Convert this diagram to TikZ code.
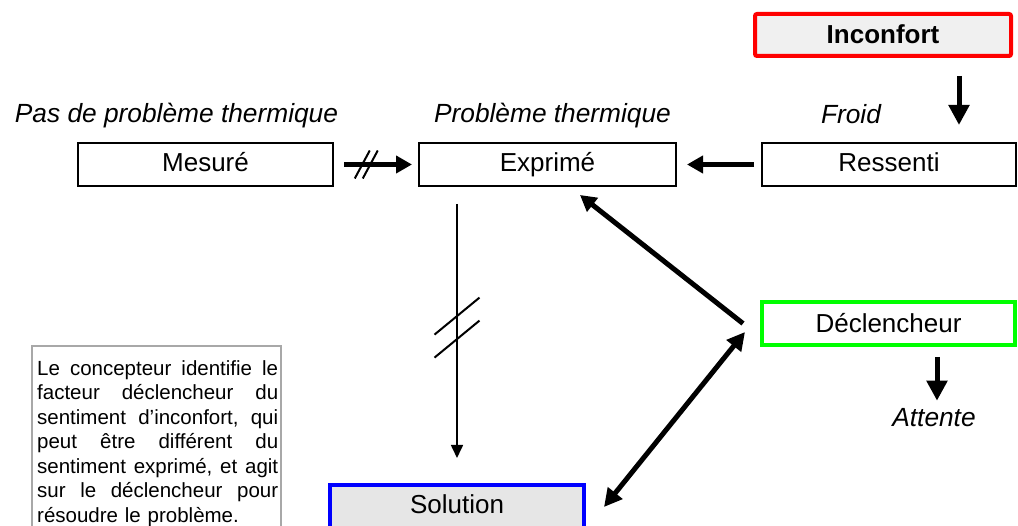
\documentclass[tikz,border=0pt]{standalone}
\usepackage{fontspec}
\setmainfont{Liberation Sans}
\usetikzlibrary{arrows.meta}
\definecolor{boxred}{HTML}{FF0000}
\definecolor{boxgreen}{HTML}{00FF00}
\definecolor{boxblue}{HTML}{0000FF}
\definecolor{fillgrayA}{HTML}{F0F0F0}
\definecolor{fillgrayB}{HTML}{E6E6E6}
\definecolor{framegray}{HTML}{A8A8A8}
\newcommand\myjline[1]{\leavevmode\hbox to 241pt{#1}}
\begin{document}
\begin{tikzpicture}[x=1pt,y=-1pt,
  box/.style={draw=black, line width=2pt, minimum height=43pt, inner sep=0pt,
    text height=19pt, text depth=5pt, font=\fontsize{26}{30}\selectfont},
  colbox/.style={box, line width=4pt},
  lbl/.style={anchor=base, inner sep=0pt, font=\fontsize{26.3}{30}\selectfont\itshape},
  bigarrow/.style={line width=5pt, -{Triangle[length=16pt,width=17pt]}},
  vbigarrow/.style={line width=5pt, -{Triangle[length=20pt,width=20pt]}},
  dblarrow/.style={line width=5pt, {Triangle[length=18pt,width=18pt]}-{Triangle[length=18pt,width=18pt]}},
  thinarrow/.style={line width=1.6pt, -{Triangle[length=13pt,width=12pt]}},
  slash/.style={line width=2pt},
  notetext/.style={anchor=north west, inner sep=0pt, text width=241pt, align=left,
    font=\fontsize{20.5}{24.5}\selectfont},
  noteframe/.style={draw=framegray, line width=2pt}
]
\useasboundingbox (0,0) rectangle (1018,526);
\fill[white] (0,0) rectangle (1018,526);

% boxes
\node[colbox, draw=boxred, fill=fillgrayA, rounded corners=2pt, minimum width=256pt,
  minimum height=42pt, text depth=1pt, font=\fontsize{26}{30}\selectfont\bfseries]
  (inconfort) at (883,35) {Inconfort};
\node[box, minimum width=255pt] (mesure) at (205.5,164.5) {Mesuré};
\node[box, minimum width=257pt] (exprime) at (547.5,164.5) {Exprimé};
\node[box, minimum width=254pt] (ressenti) at (889,164.5) {Ressenti};
\node[colbox, draw=boxgreen, minimum width=253pt, text depth=0.5pt] (declencheur) at (888.5,323.5) {Déclencheur};
\node[colbox, draw=boxblue, fill=fillgrayB, minimum width=254pt, minimum height=60pt,
  text depth=21pt] (solution) at (457,515) {Solution};

% labels
\node[lbl] (pasprob) at (176.5,123) {Pas de problème thermique};
\node[lbl] (prob) at (552.5,123) {Problème thermique};
\node[lbl] (froid) at (851,124) {Froid};
\node[lbl] (attente) at (934,427) {Attente};

% arrows
\draw[vbigarrow, shorten <=18pt, shorten >=17pt]
  ([xshift=76pt]inconfort.south) -- ([xshift=76pt]inconfort.south |- ressenti.north);
\draw[bigarrow, shorten <=10pt, shorten >=6pt]
  (mesure.east) -- coordinate[pos=0.39] (brk1) (exprime.west);
\draw[slash] (brk1) ++(-12,14) -- ++(15,-28);
\draw[slash] (brk1) ++(-4,14) -- ++(15,-28);
\draw[bigarrow, shorten <=7pt, shorten >=10pt] (ressenti.west) -- (exprime.east);
\draw[thinarrow, shorten <=17pt, shorten >=25pt]
  (solution.north |- exprime.south) -- coordinate[pos=0.475] (brk2) (solution.north);
\draw[slash] (brk2) ++(-22.5,7) -- ++(45,-37);
\draw[slash] (brk2) ++(-22.5,30) -- ++(45,-37);
\draw[bigarrow] ([xshift=-17pt]declencheur.west) -- ([xshift=32.5pt,yshift=-8pt]exprime.south);
\draw[dblarrow] ([xshift=18pt,yshift=8pt]solution.east) -- ([xshift=-15pt,yshift=-8.5pt]declencheur.west);
\draw[vbigarrow, shorten <=10pt, shorten >=8pt]
  ([xshift=48.5pt]declencheur.south) -- ([xshift=48.5pt]declencheur.south |- attente.north);

% note
\node[notetext] (note) at (37,360) {%
\myjline{Le \hfill concepteur \hfill identifie \hfill le}\\
\myjline{facteur \hfill déclencheur \hfill du}\\
\myjline{sentiment \hfill d’inconfort, \hfill qui}\\
\myjline{peut \hfill être \hfill différent \hfill du}\\
\myjline{sentiment \hfill exprimé, \hfill et \hfill agit}\\
\myjline{sur \hfill le \hfill déclencheur \hfill pour}\\
résoudre le problème.};
\draw[noteframe] ([xshift=-5pt,yshift=14pt]note.north west) rectangle ([xshift=3pt,yshift=-40pt]note.south east);
\end{tikzpicture}
\end{document}
